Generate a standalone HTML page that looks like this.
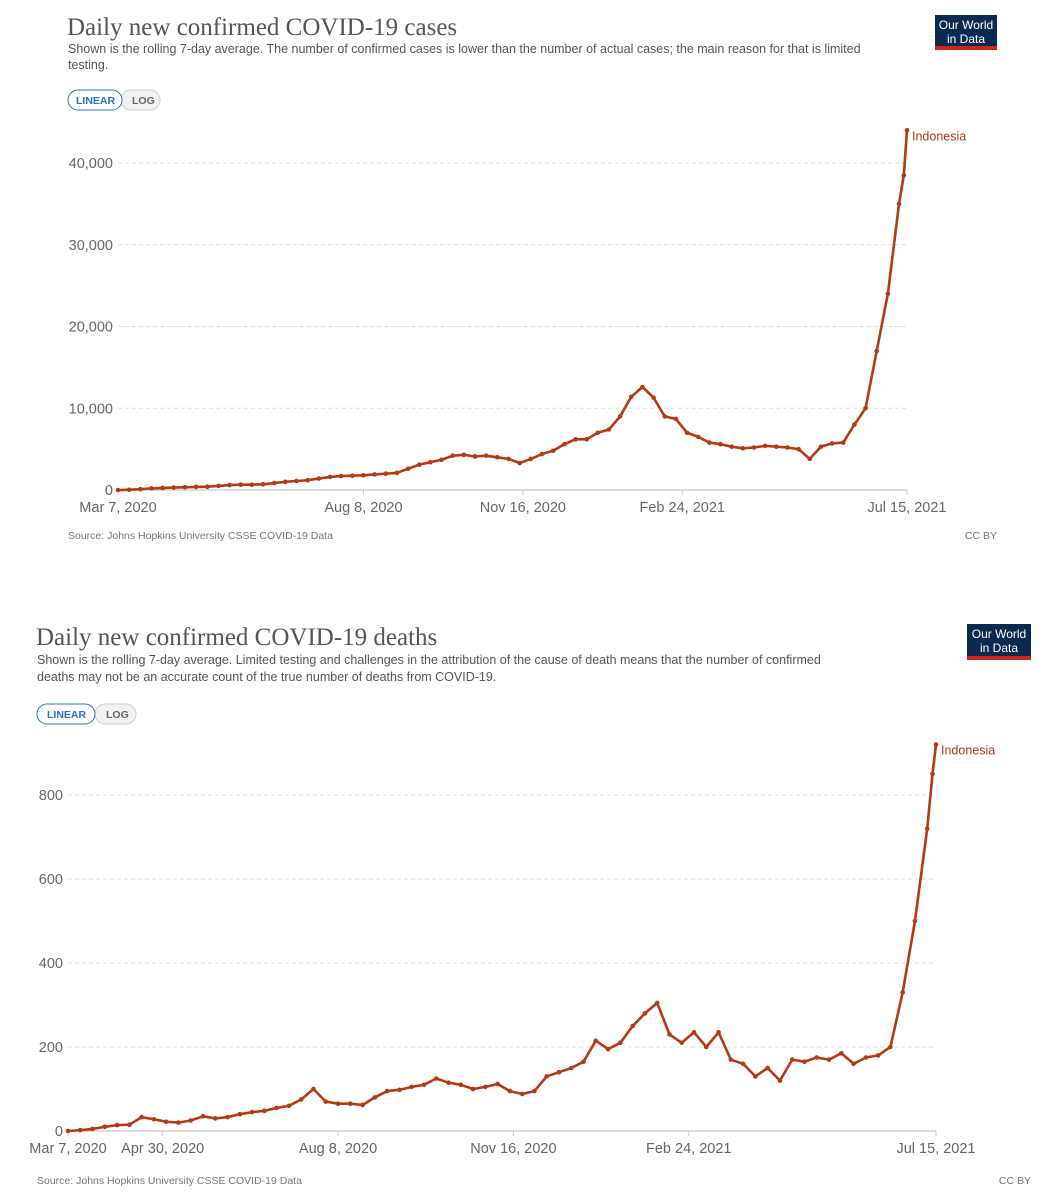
<!DOCTYPE html>
<html><head><meta charset="utf-8"><style>
body{margin:0;background:#fff;width:1060px;height:1200px;overflow:hidden}
svg{display:block}
.t{font-family:"Liberation Serif",serif;fill:#555;font-size:25px}
.s{font-family:"Liberation Sans",sans-serif;fill:#555;font-size:12.5px}
.ax{font-family:"Liberation Sans",sans-serif;fill:#666;font-size:14.5px}
.src{font-family:"Liberation Sans",sans-serif;fill:#777;font-size:10.5px}
.btn{font-family:"Liberation Sans",sans-serif;font-size:10.5px;font-weight:bold}
</style></head><body>
<svg id="svg" width="1060" height="1200" xmlns="http://www.w3.org/2000/svg">
<g>
<text class="t" x="67" y="35">Daily new confirmed COVID-19 cases</text>
<text class="s" x="68" y="53">Shown is the rolling 7-day average. The number of confirmed cases is lower than the number of actual cases; the main reason for that is limited</text>
<text class="s" x="68" y="69">testing.</text>
<rect x="121" y="90" width="39" height="20" rx="10" fill="#f2f2f2" stroke="#ccc"/>
<text class="btn" x="132" y="104" fill="#666">LOG</text>
<rect x="68" y="90" width="54" height="20" rx="10" fill="#fff" stroke="#2a6fd0"/>
<text class="btn" x="76" y="104" fill="#2a6fd0">LINEAR</text>
<g><rect x="935" y="15" width="62" height="31" fill="#0c2a4f"/><rect x="935" y="46" width="62" height="4" fill="#ce261e"/>
<text x="966" y="29" text-anchor="middle" fill="#fff" font-family="Liberation Sans Narrow,Liberation Sans,sans-serif" font-size="12">Our World</text>
<text x="966" y="43" text-anchor="middle" fill="#fff" font-family="Liberation Sans Narrow,Liberation Sans,sans-serif" font-size="12">in Data</text></g>
</g>
<g id="c1"></g>
<text class="src" x="68" y="539">Source: Johns Hopkins University CSSE COVID-19 Data</text>
<text class="src" x="997" y="539" text-anchor="end">CC BY</text>

<g>
<text class="t" x="36" y="645">Daily new confirmed COVID-19 deaths</text>
<text class="s" x="37" y="664">Shown is the rolling 7-day average. Limited testing and challenges in the attribution of the cause of death means that the number of confirmed</text>
<text class="s" x="37" y="681">deaths may not be an accurate count of the true number of deaths from COVID-19.</text>
<rect x="95" y="704" width="41" height="20" rx="10" fill="#f2f2f2" stroke="#ccc"/>
<text class="btn" x="106" y="718" fill="#666">LOG</text>
<rect x="37" y="704" width="58" height="20" rx="10" fill="#fff" stroke="#2a6fd0"/>
<text class="btn" x="47" y="718" fill="#2a6fd0">LINEAR</text>
<g><rect x="967" y="624" width="64" height="32" fill="#0c2a4f"/><rect x="967" y="656" width="64" height="4" fill="#ce261e"/>
<text x="999" y="638" text-anchor="middle" fill="#fff" font-family="Liberation Sans Narrow,Liberation Sans,sans-serif" font-size="12">Our World</text>
<text x="999" y="652" text-anchor="middle" fill="#fff" font-family="Liberation Sans Narrow,Liberation Sans,sans-serif" font-size="12">in Data</text></g>
</g>
<g id="c2"></g>
<text class="src" x="37" y="1184">Source: Johns Hopkins University CSSE COVID-19 Data</text>
<text class="src" x="1031" y="1184" text-anchor="end">CC BY</text>
</svg>
<script>
const xTickDays1 = [0,154,254,354,495];
const xTickLabels1 = ["Mar 7, 2020","Aug 8, 2020","Nov 16, 2020","Feb 24, 2021","Jul 15, 2021"];
const xTickDays2 = [0,54,154,254,354,495];
const xTickLabels2 = ["Mar 7, 2020","Apr 30, 2020","Aug 8, 2020","Nov 16, 2020","Feb 24, 2021","Jul 15, 2021"];
const yTicks1 = [0,10000,20000,30000,40000];
const yTicks2 = [0,200,400,600,800];
const caseDays = [0,7,14,21,28,35,42,49,56,63,70,77,84,91,98,105,112,119,126,133,140,147,154,161,168,175,182,189,196,203,210,217,224,231,238,245,252,259,266,273,280,287,294,301,308,315,322,329,336,343,350,357,364,371,378,385,392,399,406,413,420,427,434,441,448,455,462,469,476,483,490,493,495];
const cases = [0,30,100,200,250,300,330,380,400,500,600,650,650,700,850,1000,1100,1200,1400,1600,1700,1750,1800,1900,2000,2100,2600,3100,3400,3700,4200,4300,4100,4200,4000,3800,3300,3800,4400,4800,5600,6200,6200,7000,7400,9000,11400,12600,11300,9000,8700,7000,6500,5800,5600,5300,5100,5200,5400,5300,5200,5000,3800,5300,5700,5800,8000,10000,17000,24000,35000,38500,44000];
const deathDays = caseDays;
const deaths = [0,2,5,10,14,15,33,28,22,20,25,35,30,33,40,45,48,55,60,75,100,70,65,65,62,80,95,98,105,110,125,115,110,100,105,112,95,88,95,130,140,150,165,215,195,210,250,280,305,230,210,235,200,235,170,160,130,150,120,170,165,175,170,185,160,175,180,200,330,500,720,850,920];

function drawChart(g, days, vals, x0, x1, y0, pxPerUnit, yTicks, xtd, xtl){
  const NS="http://www.w3.org/2000/svg";
  const X=d=>x0+(d/495)*(x1-x0), Y=v=>y0-v*pxPerUnit;
  yTicks.forEach((t,i)=>{
    if(t>0){const l=document.createElementNS(NS,'line');
    l.setAttribute('x1',x0);l.setAttribute('x2',x1);l.setAttribute('y1',Y(t));l.setAttribute('y2',Y(t));
    l.setAttribute('stroke','#ddd');l.setAttribute('stroke-dasharray','4,3');
    
    
    g.appendChild(l);}
    const tx=document.createElementNS(NS,'text');tx.setAttribute('class','ax');
    tx.setAttribute('x',x0-5);tx.setAttribute('y',Y(t)+5);tx.setAttribute('text-anchor','end');
    tx.textContent=t.toLocaleString('en-US');
    
    
    g.appendChild(tx);
  });
  const ax=document.createElementNS(NS,'line');
  ax.setAttribute('x1',x0);ax.setAttribute('x2',x1);ax.setAttribute('y1',y0);ax.setAttribute('y2',y0);ax.setAttribute('stroke','#bbb');
  
  
  g.appendChild(ax);
  xtd.forEach((d,i)=>{
    const tk=document.createElementNS(NS,'line');tk.setAttribute('x1',X(d));tk.setAttribute('x2',X(d));tk.setAttribute('y1',y0);tk.setAttribute('y2',y0+5);tk.setAttribute('stroke','#ccc');
    
    
    g.appendChild(tk);
    const tx=document.createElementNS(NS,'text');tx.setAttribute('class','ax');
    tx.setAttribute('x',X(d));tx.setAttribute('y',y0+22);tx.setAttribute('text-anchor','middle');
    tx.textContent=xtl[i];
    
    
    g.appendChild(tx);
  });
  const p=document.createElementNS(NS,'polyline');
  p.setAttribute('points',days.map((d,i)=>X(d)+','+Y(vals[i])).join(' '));
  p.setAttribute('fill','none');p.setAttribute('stroke','#b33a12');p.setAttribute('stroke-width','2.6');p.setAttribute('stroke-linejoin','round');
  
  
  g.appendChild(p);
  days.forEach((d,i)=>{
    const c=document.createElementNS(NS,'circle');c.setAttribute('cx',X(d));c.setAttribute('cy',Y(vals[i]));c.setAttribute('r',2.3);c.setAttribute('fill','#b33a12');
    
    
    g.appendChild(c);
  });
  const last=vals.length-1;
  const lb=document.createElementNS(NS,'text');lb.setAttribute('x',X(days[last])+5);lb.setAttribute('y',Y(vals[last])+10);
  lb.setAttribute('fill','#b33a12');lb.setAttribute('font-family','Liberation Sans,sans-serif');lb.setAttribute('font-size','12.5');
  lb.textContent='Indonesia';
  
  
  g.appendChild(lb);
}
drawChart(document.getElementById('c1'),caseDays,cases,118,907,490,327/40000,yTicks1,xTickDays1,xTickLabels1);
drawChart(document.getElementById('c2'),deathDays,deaths,68,936,1131,336/800,yTicks2,xTickDays2,xTickLabels2);
</script>
</body></html>
